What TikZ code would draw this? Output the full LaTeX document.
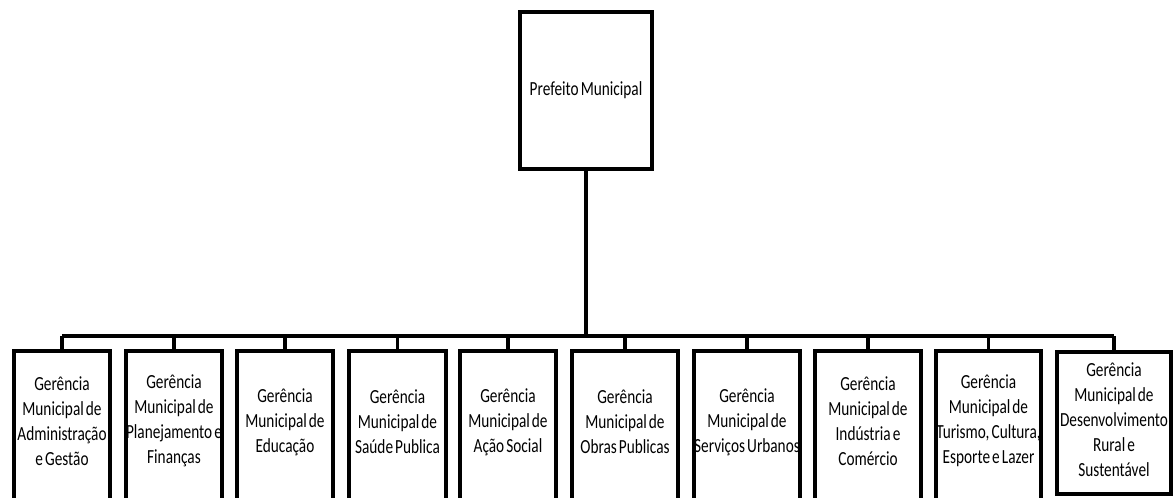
\documentclass[tikz,border=0pt]{standalone}
\usepackage{fontspec}
\setmainfont{Carlito}[FakeStretch=0.765, WordSpace=0.6]
\begin{document}
\begin{tikzpicture}[x=1pt,y=-1pt,
  box/.style={draw=black, line width=4pt, fill=white, rectangle, inner sep=0pt, anchor=north},
  txt/.style={align=center, inner sep=0pt, font=\fontsize{20}{25}\selectfont, text=black},
  conn/.style={draw=black, line width=3.2pt}]
\useasboundingbox (0,0) rectangle (1176,498);
\clip (0,0) rectangle (1176,498);
% top box
\node[box, anchor=center, minimum width=132pt, minimum height=157pt] (top) at (586,90.5) {};
\node[txt] (ttop) at (586,90) {Prefeito Municipal};
% junction on bus
\coordinate (j) at (586,336);
% lower boxes
\node[box, minimum width=96pt,  minimum height=170pt] (b1)  at (62,349) {};
\node[box, minimum width=96pt,  minimum height=170pt] (b2)  at (174,349) {};
\node[box, minimum width=96pt,  minimum height=170pt] (b3)  at (285,349) {};
\node[box, minimum width=97pt,  minimum height=170pt] (b4)  at (397.5,349) {};
\node[box, minimum width=96pt,  minimum height=170pt] (b5)  at (508,349) {};
\node[box, minimum width=106pt, minimum height=170pt] (b6)  at (625,349) {};
\node[box, minimum width=106pt, minimum height=170pt] (b7)  at (747,349) {};
\node[box, minimum width=106pt, minimum height=170pt] (b8)  at (868,349) {};
\node[box, minimum width=105pt, minimum height=170pt] (b9)  at (988.5,349) {};
\node[box, minimum width=114pt, minimum height=142pt] (b10) at (1114,350) {};
% texts
\node[txt] (t1)  at (62,421)    {Gerência\\Municipal de\\Administração\\e Gestão};
\node[txt] (t2)  at (174,421)   {Gerência\\Municipal de\\Planejamento e\\Finanças};
\node[txt] (t3)  at (285,422)   {Gerência\\Municipal de\\Educação};
\node[txt] (t4)  at (397.5,422) {Gerência\\Municipal de\\Saúde Publica};
\node[txt] (t5)  at (508,422)   {Gerência\\Municipal de\\Ação Social};
\node[txt] (t6)  at (625,422)   {Gerência\\Municipal de\\Obras Publicas};
\node[txt] (t7)  at (747,422)   {Gerência\\Municipal de\\Serviços Urbanos};
\node[txt] (t8)  at (868,421)   {Gerência\\Municipal de\\Indústria e\\Comércio};
\node[txt] (t9)  at (988.5,421) {Gerência\\Municipal de\\Turismo, Cultura,\\Esporte e Lazer};
\node[txt] (t10) at (1114,420)  {Gerência\\Municipal de\\Desenvolvimento\\Rural e\\Sustentável};
% connectors
\draw[conn, line width=3.8pt] (top.south) -- (j);
\draw[conn] (b1.north |- j) -- (b10.north |- j);
\foreach \b in {b1,b2,b3,b4,b5,b6,b7,b8,b9,b10}
  \draw[conn] (\b.north) -- (\b.north |- j);
\end{tikzpicture}
\end{document}
